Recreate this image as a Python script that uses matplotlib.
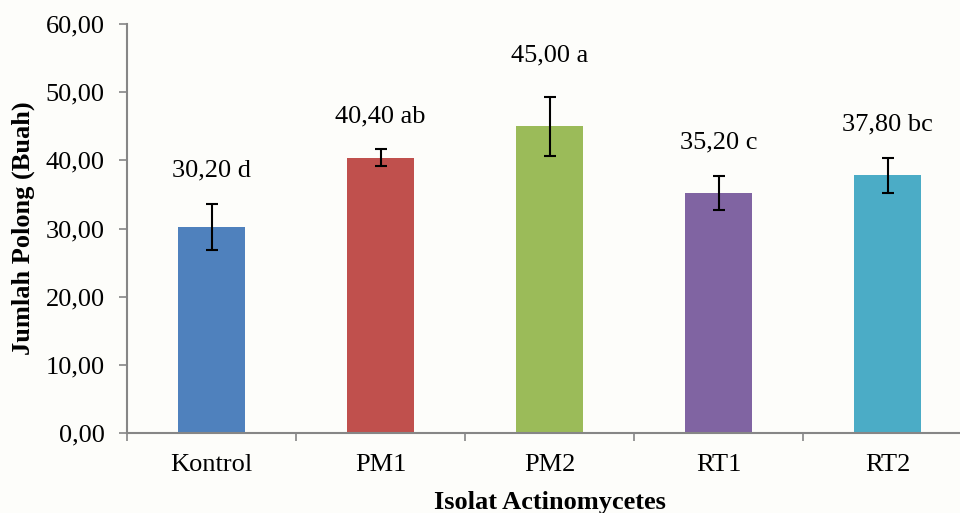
import matplotlib
matplotlib.use("Agg")
import matplotlib.pyplot as plt
from matplotlib.ticker import FuncFormatter, FixedLocator

categories = ["Kontrol", "PM1", "PM2", "RT1", "RT2"]
means = [30.20, 40.40, 45.00, 35.20, 37.80]
errors = [3.4, 1.2, 4.3, 2.55, 2.6]
letters = ["d", "ab", "a", "c", "bc"]
colors = ["#4F81BD", "#C0504D", "#9BBB59", "#8064A2", "#4BACC6"]
yticks = [0, 10, 20, 30, 40, 50, 60]

plt.rcParams["font.family"] = ["Liberation Serif", "DejaVu Serif"]

fig = plt.figure(figsize=(9.6, 5.13), dpi=100, facecolor="#fdfdfa")
ax = fig.add_axes([127 / 960, 1 - 433 / 513, 845 / 960, 409 / 513])
ax.set_facecolor("none")

x = range(len(categories))
ax.bar(x, means, width=0.40, color=colors, zorder=2)
ax.errorbar(x, means, yerr=errors, fmt="none", ecolor="black",
            elinewidth=1.5, capsize=4.5, capthick=1.5, zorder=3)

def fmt(v):
    return f"{v:.2f}".replace(".", ",")

# label offsets above each error bar, in points
label_offsets = [16, 16, 22, 16, 16]
for xi, m, e, lt, off in zip(x, means, errors, letters, label_offsets):
    ax.annotate(f"{fmt(m)} {lt}", xy=(xi, m + e), xytext=(0, off),
                textcoords="offset points", ha="center", va="bottom",
                fontsize=19)

ax.set_xlim(-0.5, len(categories) - 0.5)
ax.set_ylim(0, 60)
ax.yaxis.set_major_locator(FixedLocator(yticks))
ax.yaxis.set_major_formatter(FuncFormatter(lambda v, p: fmt(v)))

ax.set_xticks(list(x))
ax.set_xticklabels(categories)
ax.set_xticks([i - 0.5 for i in range(len(categories) + 1)], minor=True)
ax.tick_params(axis="x", which="major", length=0, pad=15, labelsize=19)
ax.tick_params(axis="x", which="minor", length=6, width=1.2, color="#868686", direction="out")
ax.tick_params(axis="y", length=6, width=1.2, color="#868686", direction="out", labelsize=19, pad=10)

for s in ("top", "right"):
    ax.spines[s].set_visible(False)
for s in ("left", "bottom"):
    ax.spines[s].set_color("#868686")
    ax.spines[s].set_linewidth(1.5)

ax.set_xlabel("Isolat Actinomycetes", fontsize=19, fontweight="bold", labelpad=11)
ax.set_ylabel("Jumlah Polong (Buah)", fontsize=19, fontweight="bold", labelpad=8)

fig.savefig("out.png", dpi=100, facecolor=fig.get_facecolor())
